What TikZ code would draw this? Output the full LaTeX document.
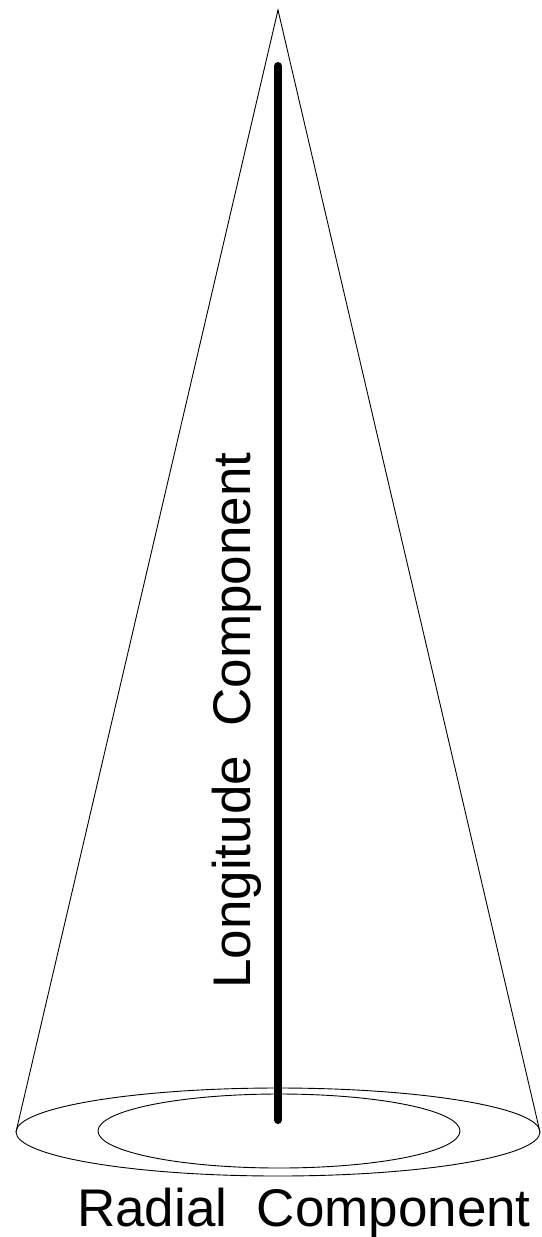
\documentclass[tikz,border=0pt]{standalone}
\usepackage{fontspec}
\setmainfont{Liberation Sans}
\usetikzlibrary{positioning}

\begin{document}
\begin{tikzpicture}[
  x=1pt, y=-1pt,
  outline/.style={draw=black, line width=0.9pt},
  axisline/.style={draw=black, line width=8pt, line cap=round},
  lbl/.style={inner sep=0pt, font=\fontsize{53}{60}\selectfont}
]
\useasboundingbox (0,0) rectangle (541,1237);

\coordinate (apex) at (278,10);
\coordinate (lft)  at (16,1132);
\coordinate (rgt)  at (540,1132);
\coordinate (top)  at (278,66);
\coordinate (bot)  at (278,1120);

% cone and base
\draw[outline] (lft) -- (apex) -- (rgt);
\draw[outline] (278,1132) ellipse [x radius=262, y radius=44];
\draw[outline] (279,1131) ellipse [x radius=181, y radius=37];

\draw[axisline] (top) -- (bot);

% labels
\node[lbl, rotate=90, anchor=base west] (lon) at (250,989) {Longitude~~Component};
\node[lbl, anchor=base] (rad) at (304,1226) {Radial~~Component};

\end{tikzpicture}
\end{document}
